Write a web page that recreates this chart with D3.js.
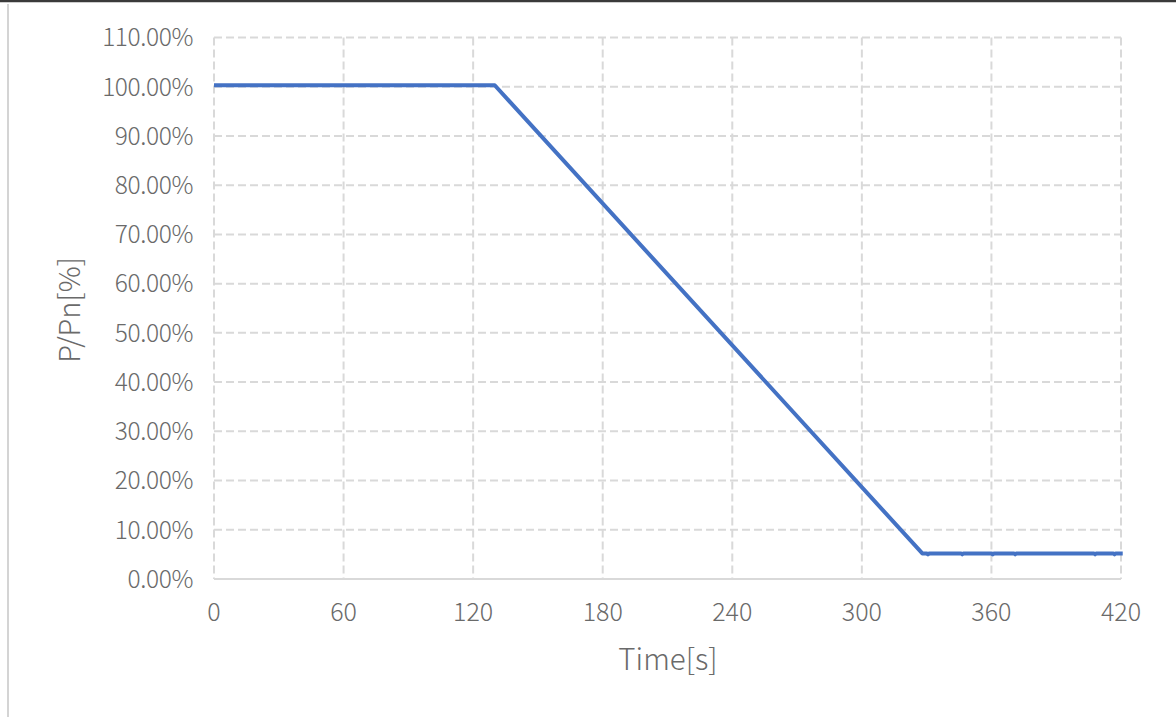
<!DOCTYPE html>
<html><head><meta charset="utf-8">
<script src="https://cdn.jsdelivr.net/npm/d3@7"></script>
<style>body{margin:0;background:#fff;overflow:hidden}</style>
</head><body>
<svg id="c" width="1176" height="717"></svg>
<script>
const xTicks = [0, 60, 120, 180, 240, 300, 360, 420];
const yTicks = [0, 0.1, 0.2, 0.3, 0.4, 0.5, 0.6, 0.7, 0.8, 0.9, 1.0, 1.1];
const times = [0, 130, 328, 330, 330.6, 331.2, 346, 346.5, 347, 360, 360.6, 361.2, 370.5, 371, 371.5, 407.5, 408, 408.5, 416.5, 417, 417.5, 420.8];
const power = [1.003, 1.003, 0.052, 0.052, 0.050, 0.052, 0.052, 0.050, 0.052, 0.052, 0.050, 0.052, 0.052, 0.050, 0.052, 0.052, 0.050, 0.052, 0.052, 0.050, 0.052, 0.052];
const xLabel = "Time[s]";
const yLabel = "P/Pn[%]";

const svg = d3.select("#c");
const font = "'Noto Sans CJK SC','Noto Sans',sans-serif";
const x = d3.scaleLinear().domain([0, 420]).range([214, 1121]);
const y = d3.scaleLinear().domain([0, 1.1]).range([579, 37.5]);

// frame
svg.append("line").attr("x1",0).attr("x2",1176).attr("y1",1).attr("y2",1).attr("stroke","#3a3a3a").attr("stroke-width",2.5);
svg.append("line").attr("x1",8).attr("x2",8).attr("y1",4).attr("y2",717).attr("stroke","#d4d4d4").attr("stroke-width",2);

const grid = svg.append("g");
grid.selectAll("line.h").data(yTicks.filter(d => d > 0)).join("line")
  .attr("x1", x(0)).attr("x2", x(420)).attr("y1", d => y(d)).attr("y2", d => y(d))
  .attr("stroke", "#d9d9d9").attr("stroke-width", 2).attr("stroke-dasharray", "8,4");
grid.selectAll("line.v").data(xTicks).join("line")
  .attr("x1", d => x(d)).attr("x2", d => x(d)).attr("y1", y(1.1)).attr("y2", y(0))
  .attr("stroke", "#d9d9d9").attr("stroke-width", 2).attr("stroke-dasharray", "8,4");
svg.append("line").attr("x1", x(0)).attr("x2", x(420)).attr("y1", y(0)).attr("y2", y(0))
  .attr("stroke", "#d9d9d9").attr("stroke-width", 2);

// y labels
svg.append("g").selectAll("text").data(yTicks).join("text")
  .attr("x", 193).attr("y", d => y(d)).attr("dy", "0.36em")
  .attr("text-anchor", "end").attr("font-family", font).attr("font-size", 24.5).attr("font-weight", 300)
  .attr("fill", "#6a6a6a").attr("letter-spacing", "-0.4")
  .text(d => d3.format(".2%")(d));
// x labels
svg.append("g").selectAll("text").data(xTicks).join("text")
  .attr("x", d => x(d)).attr("y", 621)
  .attr("text-anchor", "middle").attr("font-family", font).attr("font-size", 25).attr("font-weight", 300)
  .attr("fill", "#6a6a6a").text(d => d);

svg.append("text").attr("x", 668).attr("y", 670).attr("text-anchor", "middle")
  .attr("font-family", font).attr("font-size", 29.5).attr("font-weight", 300).attr("fill", "#6a6a6a").text(xLabel);
svg.append("text").attr("transform", "translate(80,310) rotate(-90)").attr("text-anchor", "middle")
  .attr("font-family", font).attr("font-size", 29).attr("font-weight", 300).attr("fill", "#6a6a6a").text(yLabel);

const data = times.map((t, i) => [t, power[i]]);
svg.append("path").datum(data)
  .attr("d", d3.line().x(d => x(d[0])).y(d => y(d[1])))
  .attr("fill", "none").attr("stroke", "#4472C4").attr("stroke-width", 4)
  .attr("stroke-linejoin", "round");
</script>
</body></html>
